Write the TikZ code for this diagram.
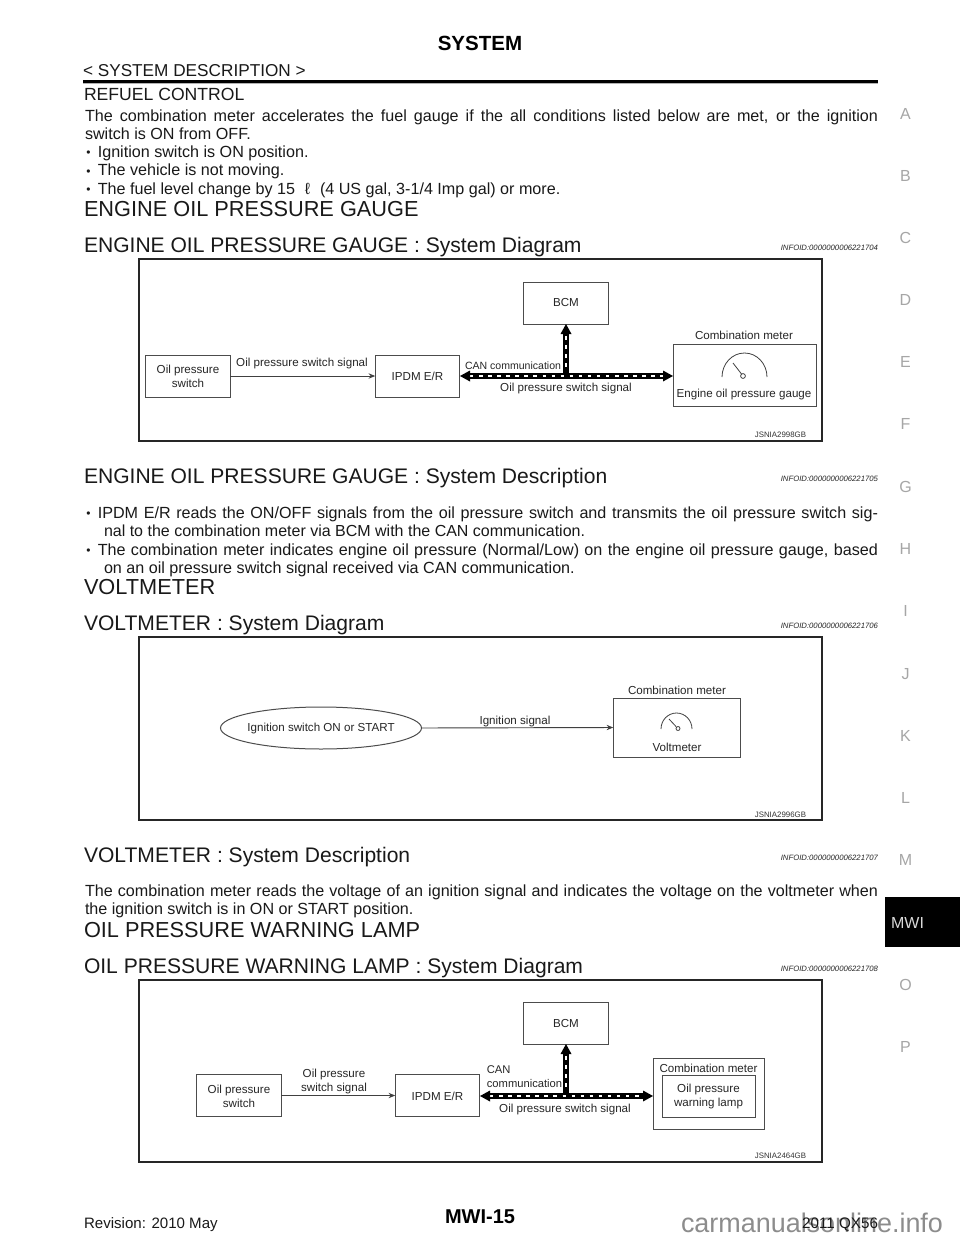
\documentclass[tikz,border=0pt]{standalone}
\usepackage{fontspec}
\setmainfont{Liberation Sans}
\usetikzlibrary{arrows.meta,shapes.geometric}
\newcommand{\bul}{\makebox[9.6pt][l]{\hspace{1pt}\raisebox{0.3pt}{\fontsize{9pt}{9pt}\selectfont •}}}
\tikzset{
  x=0.75pt,y=-0.75pt,
  every node/.style={inner sep=0pt,outer sep=0pt},
  bodytxt/.style={anchor=base west,font=\fontsize{12.1pt}{12.1pt}\selectfont,text=black!90},
  sectxt/.style={anchor=base west,font=\fontsize{16.3pt}{16.3pt}\selectfont,text=black!90},
  subtxt/.style={anchor=base west,font=\fontsize{15.8pt}{15.8pt}\selectfont,text=black!90},
  info/.style={anchor=base east,font=\fontsize{5.8pt}{5.8pt}\selectfont\itshape,text=black!85},
  tab/.style={font=\fontsize{12pt}{12pt}\selectfont,text=black!35},
  frame/.style={draw=black!85,line width=1.5pt},
  bx/.style={draw=black!70,line width=0.75pt,minimum width=63.4pt,minimum height=31.5pt},
  dt/.style={font=\fontsize{8.7pt}{10.5pt}\selectfont,text=black!85,align=center},
  code/.style={anchor=base east,font=\fontsize{5.9pt}{5.9pt}\selectfont,text=black!80},
  sig/.style={draw=black!75,line width=0.7pt,-{Stealth[length=5pt,width=4pt]}},
  busb/.style={draw=black,line width=3.8pt},
  busw/.style={draw=white,line width=1.6pt,dash pattern=on 2.6pt off 4.2pt},
  tip/.style={fill=black,draw=none},
  gauge/.style={draw=black!75,line width=0.6pt},
}
\begin{document}
\begin{tikzpicture}
\useasboundingbox (0,0) rectangle (960,1242);
\fill[white] (0,0) rectangle (960,1242);

% header
\node[anchor=base,font=\bfseries\fontsize{15.4pt}{15.4pt}\selectfont] (title) at (480,50) {SYSTEM};
\node[bodytxt,font=\fontsize{12.9pt}{12.9pt}\selectfont] (t1) at (83,76) {< SYSTEM DESCRIPTION >};
\draw[black!30,line width=0.75pt] (83,83) -- (878,83);
\draw[black,line width=1.6pt] (83,81.5) -- (878,81.5);
\node[bodytxt,font=\fontsize{13.2pt}{13.2pt}\selectfont] (t2) at (84,100) {REFUEL CONTROL};
\node[bodytxt] (t3) at (85,121) {\makebox[594.75pt][s]{The combination meter accelerates the fuel gauge if the all conditions listed below are met, or the ignition}};
\node[bodytxt] (t4) at (85,139) {switch is ON from OFF.};
\node[bodytxt] (t5) at (85,157) {\bul Ignition switch is ON position.};
\node[bodytxt] (t6) at (85,175.5) {\bul The vehicle is not moving.};
\node[bodytxt] (t7) at (85,194) {\bul The fuel level change by 15 \,\,ℓ\,\, (4 US gal, 3-1/4 Imp gal) or more.};
\node[sectxt] (s1) at (84,216) {ENGINE OIL PRESSURE GAUGE};
\node[subtxt] (s2) at (84,252) {ENGINE OIL PRESSURE GAUGE : System Diagram};
\node[info] (i1) at (878,250) {INFOID:0000000006221704};

% diagram 1
\draw[frame] (139,259) rectangle (821.5,441);
\node[bx] (a1) at (188,376) {};
\node[dt] at (188,376) (a1t) {Oil pressure\\switch};
\node[bx] (a2) at (417.5,376) {};
\node[dt] (a2t) at (417.5,376) {IPDM E/R};
\node[bx] (a3) at (566,303) {};
\node[dt] (a3t) at (566,303) {BCM};
\node[bx,minimum width=107.25pt,minimum height=46.5pt] (a4) at (744.5,375) {};
\node[dt] (a4t) at (744,335.5) {Combination meter};
\node[dt] (a4b) at (744,394.5) {Engine oil pressure gauge};
\node[dt] (a5) at (302,363) {Oil pressure switch signal};
\node[dt,font=\fontsize{7.9pt}{9pt}\selectfont] (a6) at (513,365.5) {CAN communication};
\node[dt] (a7) at (566,388.5) {Oil pressure switch signal};
\node[code] (a8) at (806,437) {JSNIA2998GB};
\coordinate (a9) at (566,376);
\draw[sig] (a1.east) -- (a2.west);
\draw[busb] (a9) -- (566,333);
\draw[busw] (a9) -- (566,333);
\fill[tip] (566,324) -- (560.5,334) -- (571.5,334) -- cycle;
\draw[busb] (470,376) -- (663,376);
\draw[busw] (470,376) -- (663,376);
\fill[tip] (460,376) -- (470,370.5) -- (470,381.5) -- cycle;
\fill[tip] (673,376) -- (663,370.5) -- (663,381.5) -- cycle;
\draw[gauge] (722,377) arc[start angle=180,end angle=360,x radius=22.5,y radius=24];
\draw[gauge] (733,363) -- (741.5,374);
\draw[gauge] (743,376) circle[radius=2.4];

\node[subtxt] (s3) at (84,483) {ENGINE OIL PRESSURE GAUGE : System Description};
\node[info] (i2) at (878,481) {INFOID:0000000006221705};
\node[bodytxt] (t8) at (85,518) {\makebox[594.75pt][s]{\bul IPDM E/R reads the ON/OFF signals from the oil pressure switch and transmits the oil pressure switch sig-}};
\node[bodytxt,font=\fontsize{12pt}{12pt}\selectfont] (t9) at (104,536) {nal to the combination meter via BCM with the CAN communication.};
\node[bodytxt] (t10) at (85,555) {\makebox[594.75pt][s]{\bul The combination meter indicates engine oil pressure (Normal/Low) on the engine oil pressure gauge, based}};
\node[bodytxt] (t11) at (104,573) {on an oil pressure switch signal received via CAN communication.};
\node[sectxt] (s4) at (84,594) {VOLTMETER};
\node[subtxt] (s5) at (84,630) {VOLTMETER : System Diagram};
\node[info] (i3) at (878,628) {INFOID:0000000006221706};

% diagram 2
\draw[frame] (139,637) rectangle (821.5,820);
\node[ellipse,draw=black!70,line width=0.75pt,minimum width=150.75pt,minimum height=31.5pt] (b1) at (321,728) {};
\node[dt] (b1t) at (321,728.5) {Ignition switch ON or START};
\node[bx,minimum width=95.6pt,minimum height=44.25pt] (b2) at (677,727.5) {};
\node[dt] (b2t) at (677,690) {Combination meter};
\node[dt] (b2b) at (677,747) {Voltmeter};
\node[dt] (b3) at (515,721) {Ignition signal};
\node[code] (b4) at (806,817) {JSNIA2996GB};
\draw[sig] (b1.east) -- (b2.west);
\draw[gauge] (661,729) arc[start angle=180,end angle=360,x radius=15.5,y radius=16];
\draw[gauge] (669,719) -- (676,726.5);
\draw[gauge] (678,728.5) circle[radius=2];

\node[subtxt] (s6) at (84,862) {VOLTMETER : System Description};
\node[info] (i4) at (878,860) {INFOID:0000000006221707};
\node[bodytxt] (t12) at (85,896) {\makebox[594.75pt][s]{The combination meter reads the voltage of an ignition signal and indicates the voltage on the voltmeter when}};
\node[bodytxt] (t13) at (85,914.5) {the ignition switch is in ON or START position.};
\node[sectxt] (s7) at (84,937) {OIL PRESSURE WARNING LAMP};
\node[subtxt] (s8) at (84,973) {OIL PRESSURE WARNING LAMP : System Diagram};
\node[info] (i5) at (878,971) {INFOID:0000000006221708};

% diagram 3
\draw[frame] (139,980) rectangle (821.5,1162);
\node[bx] (c1) at (239,1095.5) {};
\node[dt] (c1t) at (239,1096) {Oil pressure\\switch};
\node[bx] (c2) at (437.5,1095.5) {};
\node[dt] (c2t) at (437.5,1096) {IPDM E/R};
\node[bx] (c3) at (566,1023) {};
\node[dt] (c3t) at (566,1023) {BCM};
\node[bx,minimum width=83.25pt,minimum height=53.25pt] (c4) at (708.5,1093.5) {};
\node[bx,minimum width=69.75pt,minimum height=31.5pt] (c5) at (708.5,1096) {};
\node[dt] (c4t) at (708.5,1068) {Combination meter};
\node[dt] (c5t) at (708.5,1096.5) {Oil pressure\\warning lamp};
\node[dt] (c6) at (334,1081) {Oil pressure\\switch signal};
\node[dt,align=left,font=\fontsize{8.4pt}{10.5pt}\selectfont] (c7) at (524.5,1076.5) {CAN\\communication};
\node[dt] (c8) at (565,1109) {Oil pressure switch signal};
\node[code] (c9) at (806,1158) {JSNIA2464GB};
\coordinate (c10) at (566,1096);
\draw[sig] (c1.east) -- (c2.west);
\draw[busb] (c10) -- (566,1053);
\draw[busw] (c10) -- (566,1053);
\fill[tip] (566,1044) -- (560.5,1054) -- (571.5,1054) -- cycle;
\draw[busb] (490,1096) -- (643,1096);
\draw[busw] (490,1096) -- (643,1096);
\fill[tip] (480,1096) -- (490,1090.5) -- (490,1101.5) -- cycle;
\fill[tip] (653,1096) -- (643,1090.5) -- (643,1101.5) -- cycle;

% side tabs
\node[tab] (la) at (905.5,114) {A};
\node[tab] (lb) at (905.5,176) {B};
\node[tab] (lc) at (905.5,238) {C};
\node[tab] (ld) at (905.5,300) {D};
\node[tab] (le) at (905.5,362) {E};
\node[tab] (lf) at (905.5,424) {F};
\node[tab] (lg) at (905.5,487) {G};
\node[tab] (lh) at (905.5,549) {H};
\node[tab] (li) at (905.5,611) {I};
\node[tab] (lj) at (905.5,674) {J};
\node[tab] (lk) at (905.5,736) {K};
\node[tab] (ll) at (905.5,798) {L};
\node[tab] (lm) at (905.5,860) {M};
\fill[black] (885,897) rectangle (960,947);
\node[tab,text=white!85!black] (lmwi) at (907.5,923) {MWI};
\node[tab] (lo) at (905.5,985) {O};
\node[tab] (lp) at (905.5,1047) {P};

% footer
\node[bodytxt,font=\fontsize{11.3pt}{11.3pt}\selectfont] (f1) at (84,1228.5) {Revision: 2010 May};
\node[anchor=base,font=\bfseries\fontsize{15pt}{15pt}\selectfont] (f2) at (480,1223) {MWI-15};
\node[anchor=base west,font=\fontsize{20.2pt}{20.2pt}\selectfont,text=black!45] (f4) at (681,1232) {carmanualsonline.info};
\node[bodytxt,anchor=base east,font=\fontsize{11.4pt}{11.4pt}\selectfont] (f3) at (878,1228) {2011 QX56};
\end{tikzpicture}
\end{document}
